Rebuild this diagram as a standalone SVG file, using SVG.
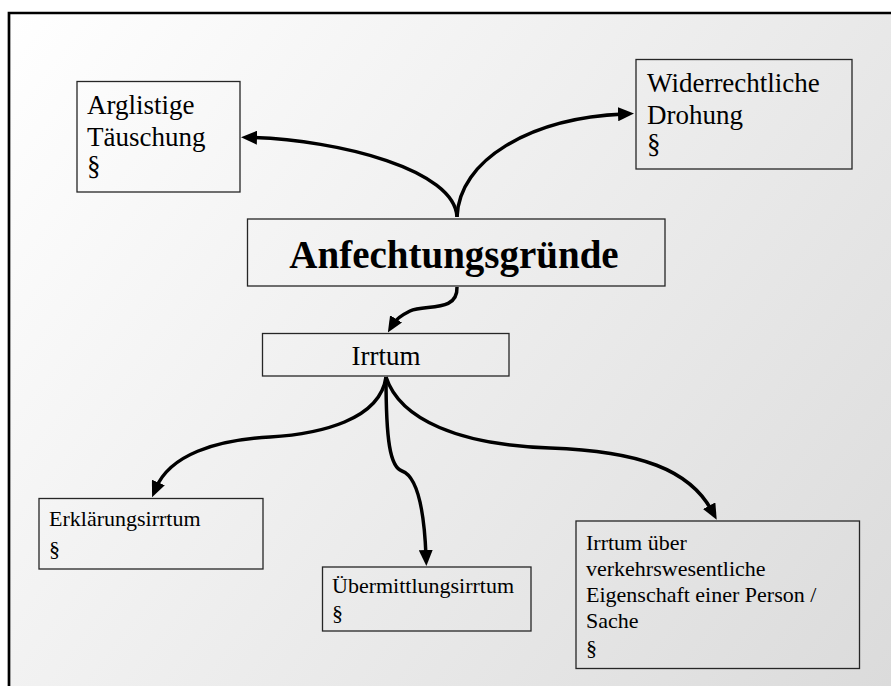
<svg xmlns="http://www.w3.org/2000/svg" width="891" height="686" viewBox="0 0 891 686">
<defs>
<linearGradient id="bg" gradientUnits="userSpaceOnUse" x1="9" y1="13" x2="891" y2="686">
<stop offset="0" stop-color="#ffffff"/>
<stop offset="1" stop-color="#dbdbdb"/>
</linearGradient>
<marker id="arr" viewBox="0 0 16 14" refX="6" refY="7" markerWidth="16" markerHeight="14" markerUnits="userSpaceOnUse" orient="auto">
<path d="M0,0 L16,7 L0,14 z" fill="#000"/>
</marker>
<style>
.box{fill:none;stroke:#262626;stroke-width:1.3}
text{font-family:'Liberation Serif','Tinos','Times New Roman','DejaVu Serif',serif;fill:#000}
.t27{font-size:27px}
.t22{font-size:22px}
.title{font-size:39px;font-weight:bold}
.con{fill:none;stroke:#000;stroke-width:3.5;marker-end:url(#arr)}
</style>
</defs>
<rect x="0" y="0" width="891" height="686" fill="#ffffff"/>
<rect x="9" y="13" width="882" height="673" fill="url(#bg)"/>
<path d="M9,686 L9,13 L891,13" fill="none" stroke="#000" stroke-width="2.7"/>

<g id="connectors">
<path class="con" d="M457,217 C455,170 340,140 251,137.5"/>
<path class="con" d="M457,217 C459,160 530,118 624,114"/>
<path class="con" d="M457,287 C458,313 425,304 410,311 C400,316 396,319 393,324"/>
<path class="con" d="M386,377 C380,420 320,434 270,437 C215,440 170,455 156,488"/>
<path class="con" d="M386,377 C386,440 390,467 402,471 C416,476 424,505 426,556"/>
<path class="con" d="M386,377 C400,420 460,445 550,448 C640,451 690,470 712,511"/>
</g>

<g id="arglistige" font-family="Liberation Serif, serif">
<rect class="box" x="77" y="81.5" width="163" height="110.5"/>
<text class="t27" x="87" y="114">Arglistige</text>
<text class="t27" x="87" y="146">Täuschung</text>
<text class="t27" x="87" y="175">§</text>
</g>

<g id="drohung">
<rect class="box" x="636" y="59.5" width="216" height="109.5"/>
<text class="t27" x="647" y="92">Widerrechtliche</text>
<text class="t27" x="647" y="124">Drohung</text>
<text class="t27" x="647" y="153">§</text>
</g>

<g id="anfechtungsgruende">
<rect class="box" x="247.5" y="219" width="417.5" height="67"/>
<text class="title" x="454" y="268" text-anchor="middle">Anfechtungsgründe</text>
</g>

<g id="irrtum">
<rect class="box" x="262.5" y="333.5" width="246.5" height="42.5"/>
<text class="t27" x="386" y="365" text-anchor="middle">Irrtum</text>
</g>

<g id="erklaerungsirrtum">
<rect class="box" x="39" y="498.5" width="224" height="70.5"/>
<text class="t22" x="49" y="525.5">Erklärungsirrtum</text>
<text class="t22" x="49" y="556">§</text>
</g>

<g id="uebermittlungsirrtum">
<rect class="box" x="322.5" y="567" width="208.5" height="64"/>
<text class="t22" x="332" y="593">Übermittlungsirrtum</text>
<text class="t22" x="332" y="620">§</text>
</g>

<g id="eigenschaftsirrtum">
<rect class="box" x="576" y="521" width="283.5" height="147.5"/>
<text class="t22" x="586" y="550">Irrtum über</text>
<text class="t22" x="586" y="575.5">verkehrswesentliche</text>
<text class="t22" x="586" y="602">Eigenschaft einer Person /</text>
<text class="t22" x="586" y="628">Sache</text>
<text class="t22" x="586" y="654.5">§</text>
</g>
</svg>
